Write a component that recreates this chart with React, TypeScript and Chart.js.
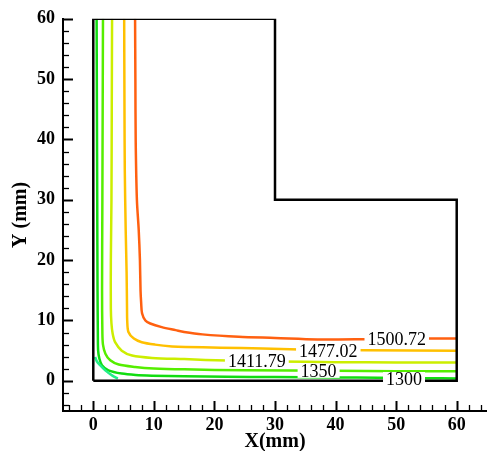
import React, { useEffect, useRef } from "react";
import { Chart, registerables } from "chart.js";

Chart.register(...registerables);

// ---- data ----
const boundaryX = [0, 60, 60, 30, 30, 0, 0];
const boundaryY = [0, 0, 30, 30, 60, 60, 0];

const cornerX = [0.3, 0.6, 1.16, 1.98, 3.09, 4.05];
const cornerY = [3.95, 3.2, 2.55, 1.74, 0.91, 0.35];

const c1300X = [0.55, 0.6, 0.65, 0.7, 0.75, 0.8, 1.0, 1.43, 2.5, 4.7, 7, 9.7, 15, 22, 30, 40, 47, 55, 60];
const c1300Y = [60, 45, 30, 15, 8, 5, 3.7, 2.6, 1.74, 1.2, 0.97, 0.86, 0.75, 0.68, 0.62, 0.57, 0.52, 0.42, 0.4];

const c1350X = [1.6, 1.55, 1.5, 1.45, 1.5, 1.6, 2.0, 2.8, 4.2, 6.9, 10, 15, 25, 40, 50, 60];
const c1350Y = [60, 45, 30, 15, 8, 6, 4.5, 3.4, 2.7, 2.3, 2.05, 1.9, 1.75, 1.65, 1.6, 1.6];

const c1411X = [3.1, 3.05, 3.0, 2.9, 2.9, 3.0, 3.2, 3.6, 4.7, 6.4, 9.7, 15, 22, 30, 40, 50, 60];
const c1411Y = [60, 45, 30, 20, 12, 9.5, 7.8, 6.4, 5.0, 4.2, 3.8, 3.6, 3.35, 3.2, 3.1, 3.05, 3.05];

const c1477X = [5.1, 5.15, 5.2, 5.35, 5.5, 5.57, 5.6, 5.8, 6.7, 8, 10.2, 13, 15.2, 21, 28, 34, 45, 60];
const c1477Y = [60, 45, 35, 25, 18, 12, 10, 8.1, 7.0, 6.4, 6.0, 5.7, 5.6, 5.5, 5.35, 5.2, 5.05, 5.0];

const c1500X = [6.9, 6.95, 7.0, 7.2, 7.5, 7.7, 7.8, 7.9, 8.05, 8.6, 9.4, 11.3, 13.6, 15, 18, 24, 30, 37, 45, 52, 60];
const c1500Y = [60, 50, 40, 30, 25, 20, 15, 13, 11.2, 10, 9.5, 8.9, 8.4, 8.1, 7.7, 7.3, 7.1, 6.85, 6.9, 7.0, 7.0];

const labelTexts = ["1500.72", "1477.02", "1411.79", "1350", "1300"];
const labelXs = [50.1, 38.8, 27.0, 37.2, 51.3];
const labelYs = [7.0, 5.0, 3.35, 1.65, 0.3];

const majorTicks = [0, 10, 20, 30, 40, 50, 60];
const xMinorTicks = [-4, -2, 0, 2, 4, 6, 8, 10, 12, 14, 16, 18, 20, 22, 24, 26, 28, 30, 32, 34, 36, 38, 40, 42, 44, 46, 48, 50, 52, 54, 56, 58, 60, 62, 64];
const yMinorTicks = [-4, -2, 0, 2, 4, 6, 8, 10, 12, 14, 16, 18, 20, 22, 24, 26, 28, 30, 32, 34, 36, 38, 40, 42, 44, 46, 48, 50, 52, 54, 56, 58, 60];

const SERIF = '"Liberation Serif", "Times New Roman", serif';

function pts(xs: number[], ys: number[]) {
  return xs.map((x, i) => ({ x, y: ys[i] }));
}

function line(xs: number[], ys: number[], color: string, width: number, tension: number) {
  return {
    data: pts(xs, ys),
    borderColor: color,
    backgroundColor: color,
    borderWidth: width,
    showLine: true,
    pointRadius: 0,
    tension,
    fill: false,
  };
}

const tickPlugin = {
  id: "innerTicks",
  afterDraw(chart: any) {
    const ctx = chart.ctx;
    const xs = chart.scales.x;
    const ys = chart.scales.y;
    const area = chart.chartArea;
    ctx.save();
    ctx.strokeStyle = "#000";
    xMinorTicks.forEach((v) => {
      const major = v % 10 === 0;
      const px = Math.round(xs.getPixelForValue(v)) + 0.5;
      ctx.lineWidth = major ? 2 : 1.3;
      ctx.beginPath();
      ctx.moveTo(px, area.bottom);
      ctx.lineTo(px, area.bottom - (major ? 10 : 6));
      ctx.stroke();
    });
    yMinorTicks.forEach((v) => {
      const major = v % 10 === 0;
      const py = Math.round(ys.getPixelForValue(v)) + 0.5;
      ctx.lineWidth = major ? 2 : 1.3;
      ctx.beginPath();
      ctx.moveTo(area.left, py);
      ctx.lineTo(area.left + (major ? 10 : 6), py);
      ctx.stroke();
    });
    ctx.restore();
  },
};

const labelPlugin = {
  id: "contourLabels",
  afterDatasetsDraw(chart: any) {
    const ctx = chart.ctx;
    const xs = chart.scales.x;
    const ys = chart.scales.y;
    const fs = 18;
    ctx.save();
    ctx.font = `${fs}px ${SERIF}`;
    ctx.textAlign = "center";
    ctx.textBaseline = "alphabetic";
    labelTexts.forEach((t, i) => {
      const px = xs.getPixelForValue(labelXs[i]);
      const py = ys.getPixelForValue(labelYs[i]);
      const w = ctx.measureText(t).width;
      ctx.fillStyle = "#fff";
      ctx.fillRect(px - w / 2 - 3, py - 7, w + 6, 14);
      ctx.fillStyle = "#000";
      ctx.fillText(t, px, py + 6);
    });
    ctx.restore();
  },
};

export default function App() {
  const ref = useRef<HTMLCanvasElement | null>(null);
  useEffect(() => {
    if (!ref.current) return;
    const tickFont = { family: SERIF, size: 18, weight: "bold" as const };
    const titleFont = { family: SERIF, size: 20, weight: "bold" as const };
    const chart = new Chart(ref.current, {
      type: "scatter",
      data: {
        datasets: [
          line(boundaryX, boundaryY, "#000", 2.5, 0),
          line(cornerX, cornerY, "#22EE88", 2.5, 0.3),
          line(c1300X, c1300Y, "#11DD11", 2.5, 0.3),
          line(c1350X, c1350Y, "#55EE00", 2.5, 0.3),
          line(c1411X, c1411Y, "#CCEE00", 2.5, 0.3),
          line(c1477X, c1477Y, "#FFC000", 2.5, 0.3),
          line(c1500X, c1500Y, "#FF6010", 2.5, 0.3),
        ] as any,
      },
      options: {
        responsive: false,
        animation: false,
        layout: { padding: { top: 17, right: 0, left: 0, bottom: 0 } },
        plugins: { legend: { display: false }, tooltip: { enabled: false } },
        scales: {
          x: {
            type: "linear",
            min: -5,
            max: 65,
            grid: { display: false, drawTicks: false, tickLength: 0 },
            border: { display: true, color: "#000", width: 2 },
            afterBuildTicks: (s: any) => {
              s.ticks = majorTicks.map((v) => ({ value: v }));
            },
            afterFit: (s: any) => {
              s.height = 40;
            },
            ticks: { font: tickFont, color: "#000", padding: 4, maxRotation: 0, autoSkip: false },
            title: { display: true, text: "X(mm)", font: titleFont, color: "#000", padding: { top: 0, bottom: -2.5 } },
          },
          y: {
            type: "linear",
            min: -5,
            max: 60,
            grid: { display: false, drawTicks: false, tickLength: 0 },
            border: { display: true, color: "#000", width: 2 },
            afterBuildTicks: (s: any) => {
              s.ticks = majorTicks.map((v) => ({ value: v }));
            },
            afterFit: (s: any) => {
              s.width = 63;
            },
            ticks: { font: tickFont, color: "#000", padding: 8, autoSkip: false },
            title: { display: true, text: "Y (mm)", font: titleFont, color: "#000", padding: { top: 9, bottom: 0 } },
          },
        },
      } as any,
      plugins: [labelPlugin, tickPlugin],
    });
    return () => chart.destroy();
  }, []);
  return (
    <div style={{ position: "absolute", left: 0, top: 0, width: 487, height: 451, background: "#fff" }}>
      <canvas ref={ref} width={487} height={451} style={{ display: "block" }} />
    </div>
  );
}
